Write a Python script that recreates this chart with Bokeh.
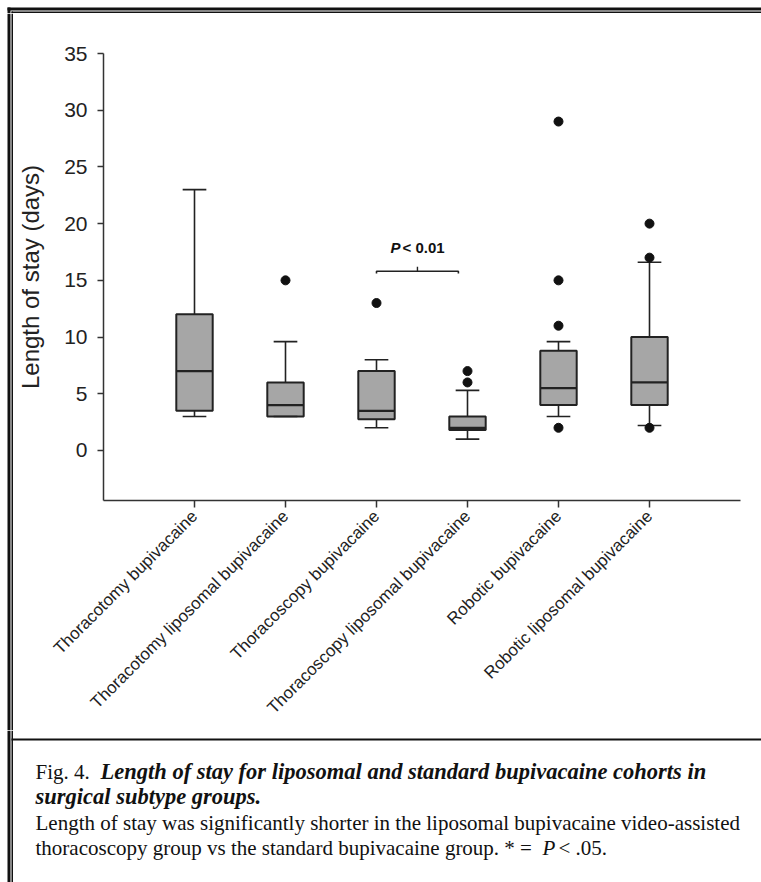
import math
from bokeh.plotting import figure
from bokeh.layouts import column, row
from bokeh.models import ColumnDataSource, Range1d, FixedTicker, Label
from bokeh.core.properties import value
from bokeh.embed import file_html
from bokeh.resources import INLINE

# ---------------- data ----------------
categories = ["Thoracotomy bupivacaine", "Thoracotomy liposomal bupivacaine",
              "Thoracoscopy bupivacaine", "Thoracoscopy liposomal bupivacaine",
              "Robotic bupivacaine", "Robotic liposomal bupivacaine"]
positions = [1, 2, 3, 4, 5, 6]
whisker_low = [3, 3, 2, 1, 3, 2.2]
q1 = [3.5, 3, 2.75, 1.8, 4, 4]
median = [7, 4, 3.5, 2, 5.5, 6]
q3 = [12, 6, 7, 3, 8.8, 10]
whisker_high = [23, 9.6, 8, 5.3, 9.6, 16.6]
outlier_group = [2, 3, 4, 4, 5, 5, 5, 5, 6, 6, 6]
outlier_value = [15, 13, 6, 7, 2, 11, 15, 29, 2, 17, 20]
y_ticks = [0, 5, 10, 15, 20, 25, 30, 35]
bracket_from, bracket_to, bracket_level = 3.0, 3.9, 15.8
bracket_text_level = 17.9

# ---------------- page geometry ----------------
PAGE_W, PAGE_H = 761, 882
STRIP = 13            # left / top strips carrying the double border
CHART_H = 730 - STRIP
CAP_H = PAGE_H - 730
AW = PAGE_W - STRIP

INK = "#111111"


def strip_fig(w, h):
    f = figure(width=w, height=h, x_range=Range1d(0, w), y_range=Range1d(h, 0),
               output_backend="svg", toolbar_location=None,
               x_axis_location=None, y_axis_location=None,
               min_border_left=0, min_border_right=0, min_border_top=0, min_border_bottom=0)
    f.outline_line_color = None
    f.xgrid.visible = False
    f.ygrid.visible = False
    f.background_fill_color = "white"
    f.border_fill_color = "white"
    return f


def bars(f, l, r, t, b):
    f.quad(left=l, right=r, top=t, bottom=b, fill_color=INK, line_color=None)


# ---------------- chart ----------------
X0, X1 = 0, 7
Y0, Y1 = -4.41, 35
p = figure(width=AW, height=CHART_H, x_range=Range1d(X0, X1), y_range=Range1d(Y0, Y1),
           output_backend="svg", toolbar_location=None,
           min_border_left=103 - STRIP, min_border_right=PAGE_W - 740,
           min_border_top=53 - STRIP, min_border_bottom=730 - 500)
p.outline_line_color = None
p.xgrid.visible = False
p.ygrid.visible = False
p.background_fill_color = "white"
p.border_fill_color = "white"

axis_col = "#333333"
for ax in (p.xaxis[0], p.yaxis[0]):
    ax.axis_line_color = axis_col
    ax.axis_line_width = 1.5
    ax.major_tick_line_color = axis_col
    ax.major_tick_line_width = 1.5
    ax.major_tick_in = 0
    ax.minor_tick_line_color = None
    ax.major_label_text_font = "Liberation Sans"
    ax.major_label_text_color = "#222222"

p.yaxis.ticker = FixedTicker(ticks=y_ticks)
p.yaxis.major_tick_out = 6
p.yaxis.major_label_text_font_size = "21px"
p.yaxis.major_label_standoff = 10
p.yaxis.axis_label = "Length of stay (days)"
p.yaxis.axis_label_text_font = "Liberation Sans"
p.yaxis.axis_label_text_font_size = "24px"
p.yaxis.axis_label_text_font_style = "normal"
p.yaxis.axis_label_text_color = "#222222"
p.yaxis.axis_label_standoff = 17

p.xaxis.ticker = FixedTicker(ticks=positions)
p.xaxis.major_label_overrides = {pos: cat for pos, cat in zip(positions, categories)}
p.xaxis.major_tick_out = 7
p.xaxis.major_label_text_font_size = "17px"
p.xaxis.major_label_orientation = math.pi / 4
p.xaxis.major_label_standoff = 6

box_w = 0.4
cap_w = 0.26
src = ColumnDataSource(dict(
    x=positions, lo=whisker_low, q1=q1, med=median, q3=q3, hi=whisker_high,
    xl=[x - box_w / 2 for x in positions], xr=[x + box_w / 2 for x in positions],
    cl=[x - cap_w / 2 for x in positions], cr=[x + cap_w / 2 for x in positions],
))
line_col = "#222222"
p.segment(x0="x", y0="q3", x1="x", y1="hi", source=src, line_color=line_col, line_width=1.6)
p.segment(x0="x", y0="q1", x1="x", y1="lo", source=src, line_color=line_col, line_width=1.6)
p.vbar(x="x", width=box_w, bottom="q1", top="q3", source=src,
       fill_color="#a6a6a6", line_color=line_col, line_width=2)
p.segment(x0="xl", y0="med", x1="xr", y1="med", source=src, line_color=line_col, line_width=2.2)
p.segment(x0="cl", y0="hi", x1="cr", y1="hi", source=src, line_color=line_col, line_width=1.6)
p.segment(x0="cl", y0="lo", x1="cr", y1="lo", source=src, line_color=line_col, line_width=1.6)
p.scatter(x=outlier_group, y=outlier_value, size=9, color=INK)

mid = (bracket_from + bracket_to) / 2
p.line(x=[bracket_from, bracket_from, bracket_to, bracket_to],
       y=[bracket_level - 0.2, bracket_level, bracket_level, bracket_level - 0.2],
       line_color=line_col, line_width=1.6)
p.segment(x0=[mid], y0=[bracket_level], x1=[mid], y1=[bracket_level + 0.4],
          line_color=line_col, line_width=1.4)
p.add_layout(Label(x=mid, y=bracket_text_level, x_offset=-17, text="P", text_align="right",
                   text_baseline="middle", text_font="Liberation Sans", text_font_size="15px",
                   text_font_style="bold italic", text_color=INK))
p.add_layout(Label(x=mid, y=bracket_text_level, x_offset=-15, text="< 0.01", text_align="left",
                   text_baseline="middle", text_font="Liberation Sans", text_font_size="15px",
                   text_font_style="bold", text_color=INK))

# ---------------- double border strips ----------------
top = strip_fig(PAGE_W, STRIP)
bars(top, [7, 11, 7, 11], [PAGE_W, PAGE_W, 10, 12.5], [7, 11, 7, 11], [10, 12.5, STRIP, STRIP])

left = strip_fig(STRIP, CHART_H)
bars(left, [7, 11], [10, 12.5], [0, 0], [CHART_H, CHART_H])

# ---------------- caption ----------------
cap = strip_fig(PAGE_W, CAP_H)
bars(cap, [7, 11, 11], [10, 12.5, PAGE_W], [0, 0, 8], [CAP_H, CAP_H, 10])

def caption(txt, x, y, style="normal", size="21px"):
    cap.text(x=[x], y=[y - 730], text=[txt], text_font=value("Liberation Serif"),
             text_font_size=size, text_font_style=style, text_color=INK,
             text_baseline="alphabetic", text_align="left")

caption("Fig. 4.", 35, 771)
caption("Length of  stay for liposomal and standard bupivacaine cohorts in", 100, 771,
        "bold italic", "22.5px")
caption("surgical subtype groups.", 35, 796, "bold italic", "22.5px")
caption("Length of stay was significantly shorter in the liposomal bupivacaine video-assisted", 35, 822)
caption("thoracoscopy group vs the standard bupivacaine group. * =", 35, 847)
caption("P", 542, 847, "italic")
caption("< .05.", 558, 847)

layout = column(top, row(left, column(p)), cap)
open("out.html", "w").write(file_html(layout, INLINE))
